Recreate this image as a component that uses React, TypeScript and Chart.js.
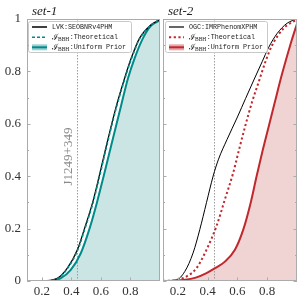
import React, { useEffect, useRef } from "react";
import { Chart, registerables } from "chart.js";
Chart.register(...registerables);

// ---------- shared axis data ----------
const xTickValues = [0.2, 0.4, 0.6, 0.8];
const yTickValues = [0, 0.2, 0.4, 0.6, 0.8, 1];
const yMinorTickValues = [0.1, 0.3, 0.5, 0.7, 0.9];
const xRange = [0.1, 1.0];
const markerX = 0.44;
const markerLabel = "J1249+349";

// ---------- set-1 ----------
const s1LvkX = [0.1, 0.2, 0.305, 0.373, 0.441, 0.487, 0.544, 0.589, 0.632, 0.7, 0.76, 0.805, 0.862, 0.94, 1.0];
const s1LvkY = [0, 0, 0.01, 0.049, 0.119, 0.196, 0.299, 0.401, 0.504, 0.658, 0.773, 0.85, 0.927, 0.978, 0.998];
const s1TheoX = [0.1, 0.203, 0.308, 0.376, 0.444, 0.49, 0.547, 0.592, 0.635, 0.703, 0.763, 0.808, 0.865, 0.943, 1.0];
const s1TheoY = [0, 0, 0.01, 0.049, 0.119, 0.196, 0.299, 0.401, 0.504, 0.658, 0.773, 0.85, 0.927, 0.978, 0.998];
const s1UniX = [0.1, 0.23, 0.327, 0.396, 0.464, 0.521, 0.573, 0.619, 0.664, 0.737, 0.783, 0.828, 0.885, 0.94, 1.0];
const s1UniY = [0, 0, 0.01, 0.042, 0.106, 0.196, 0.299, 0.401, 0.504, 0.67, 0.773, 0.85, 0.927, 0.975, 0.995];
const histEdges = [0.1, 0.145, 0.19, 0.235, 0.28, 0.325, 0.37, 0.415, 0.46, 0.505, 0.55, 0.595, 0.64, 0.685, 0.73, 0.775, 0.82, 0.865, 0.91, 0.955, 1.0];
const s1HistY = [0, 0, 0, 0.001, 0.004, 0.01, 0.028, 0.057, 0.102, 0.17, 0.252, 0.346, 0.449, 0.551, 0.654, 0.755, 0.837, 0.902, 0.952, 0.98, 0.995];

// ---------- set-2 ----------
const s2OgcX = [0.1, 0.19, 0.246, 0.302, 0.347, 0.392, 0.437, 0.473, 0.53, 0.6, 0.655, 0.71, 0.766, 0.81, 0.867, 0.934, 1.0];
const s2OgcY = [0, 0.004, 0.036, 0.107, 0.196, 0.299, 0.401, 0.465, 0.54, 0.626, 0.697, 0.767, 0.837, 0.892, 0.945, 0.984, 1.0];
const s2TheoX = [0.1, 0.19, 0.257, 0.325, 0.392, 0.459, 0.516, 0.572, 0.612, 0.653, 0.698, 0.743, 0.788, 0.833, 0.911, 0.99];
const s2TheoY = [0, 0.004, 0.017, 0.049, 0.119, 0.209, 0.312, 0.414, 0.504, 0.593, 0.683, 0.76, 0.837, 0.9, 0.965, 0.995];
const s2UniX = [0.1, 0.13, 0.235, 0.325, 0.392, 0.449, 0.516, 0.583, 0.639, 0.689, 0.729, 0.77, 0.81, 0.85, 0.89, 0.93, 0.965, 1.0];
const s2UniY = [0, 0, 0.004, 0.014, 0.03, 0.049, 0.074, 0.119, 0.196, 0.299, 0.401, 0.5, 0.59, 0.68, 0.77, 0.852, 0.92, 0.982];
const s2HistY = [0, 0.001, 0.002, 0.004, 0.009, 0.014, 0.024, 0.04, 0.053, 0.07, 0.095, 0.133, 0.197, 0.29, 0.403, 0.512, 0.612, 0.714, 0.81, 0.9, 0.982];

const TEAL = "#008b8b";
const RED = "#c0282d";

type LegendRow = { kind: "solid" | "dash" | "patch"; color: string; dash?: number[]; width: number; plain?: string; math?: string };

type PanelProps = {
  left: number;
  width: number;
  title: string;
  showYLabels: boolean;
  padRight: number;
  datasets: any[];
  legend: LegendRow[];
  legendBox: [number, number, number, number];
  showMarkerLabel: boolean;
  rightTicks: boolean;
  patchColor: string;
};

const xy = (xs: number[], ys: number[]) => xs.map((x, i) => ({ x, y: ys[i] }));

function Panel(p: PanelProps) {
  const ref = useRef<HTMLCanvasElement | null>(null);
  useEffect(() => {
    const canvas = ref.current!;
    const serif = '"Liberation Serif", "Times New Roman", serif';
    const deco = {
      id: "deco",
      beforeDatasetsDraw(chart: any) {
        const { ctx, chartArea: a, scales } = chart;
        const px = scales.x.getPixelForValue(markerX);
        ctx.save();
        ctx.strokeStyle = "#9a9a9a";
        ctx.lineWidth = 1;
        ctx.setLineDash([1.5, 1.5]);
        ctx.beginPath();
        ctx.moveTo(Math.round(px) + 0.5, a.top);
        ctx.lineTo(Math.round(px) + 0.5, a.bottom);
        ctx.stroke();
        ctx.setLineDash([]);
        if (p.showMarkerLabel) {
          ctx.translate(px - 9, scales.y.getPixelForValue(0.475));
          ctx.rotate(-Math.PI / 2);
          ctx.font = `13px ${serif}`;
          ctx.fillStyle = "#8a8a8a";
          ctx.textAlign = "center";
          ctx.textBaseline = "middle";
          ctx.fillText(markerLabel, 0, 0);
        }
        ctx.restore();
      },
      afterDatasetsDraw(chart: any) {
        const { ctx } = chart;
        const [bx, by, bw, bh] = p.legendBox;
        ctx.save();
        ctx.beginPath();
        (ctx as any).roundRect(bx + 0.5, by + 0.5, bw, bh, 2);
        ctx.fillStyle = "rgba(255,255,255,0.8)";
        ctx.fill();
        ctx.strokeStyle = "#c8c8c8";
        ctx.lineWidth = 1;
        ctx.stroke();
        const rowsY = [by + 6, by + 16.3, by + 26.3];
        const mono = '6.7px "Liberation Mono", "DejaVu Sans Mono", monospace';
        p.legend.forEach((r, i) => {
          const y = rowsY[i];
          const hx0 = bx + 4, hx1 = bx + 19;
          if (r.kind === "patch") {
            ctx.fillStyle = p.patchColor;
            ctx.fillRect(hx0, y - 3, hx1 - hx0, 6);
          }
          ctx.strokeStyle = r.color;
          ctx.lineWidth = r.width;
          ctx.setLineDash(r.dash || []);
          ctx.beginPath();
          ctx.moveTo(hx0, y);
          ctx.lineTo(hx1, y);
          ctx.stroke();
          ctx.setLineDash([]);
          let tx = bx + 24;
          ctx.fillStyle = "#222";
          ctx.textBaseline = "middle";
          ctx.textAlign = "left";
          if (r.math) {
            ctx.font = '8.5px "DejaVu Serif", serif';
            ctx.fillText("ℐ", tx, y);
            tx += ctx.measureText("ℐ").width;
            ctx.font = `5.5px ${serif}`;
            ctx.fillText("BBH", tx, y + 2);
            tx += ctx.measureText("BBH").width + 0.5;
            ctx.font = mono;
            ctx.fillText(r.math, tx, y);
          } else if (r.plain) {
            ctx.font = mono;
            ctx.fillText(r.plain, tx, y);
          }
        });
        ctx.restore();
      },
      afterDraw(chart: any) {
        const { ctx, chartArea: a, scales } = chart;
        ctx.save();
        ctx.strokeStyle = "#ababab";
        ctx.lineWidth = 1;
        ctx.strokeRect(a.left + 0.5, a.top + 0.5, a.right - a.left - 1, a.bottom - a.top - 1);
        ctx.beginPath();
        const tick = (v: number, len: number) => {
          const y = Math.round(scales.y.getPixelForValue(v)) + 0.5;
          ctx.moveTo(a.left, y);
          ctx.lineTo(a.left + len, y);
          if (p.rightTicks) {
            ctx.moveTo(a.right, y);
            ctx.lineTo(a.right - len, y);
          }
        };
        yTickValues.forEach((v) => tick(v, 3.5));
        yMinorTickValues.forEach((v) => tick(v, 2));
        xTickValues.forEach((v) => {
          const x = Math.round(scales.x.getPixelForValue(v)) + 0.5;
          ctx.moveTo(x, a.bottom);
          ctx.lineTo(x, a.bottom - 3.5);
        });
        ctx.stroke();
        ctx.font = `italic 13px ${serif}`;
        ctx.fillStyle = "#222";
        ctx.textBaseline = "alphabetic";
        ctx.textAlign = "left";
        ctx.fillText(p.title, a.left + 5, 15);
        ctx.restore();
      },
    };

    const chart = new Chart(canvas, {
      type: "line",
      data: { datasets: p.datasets },
      options: {
        animation: false,
        responsive: false,
        devicePixelRatio: 1,
        layout: { padding: { top: 19, right: p.padRight, left: 0, bottom: 0 } },
        plugins: { legend: { display: false }, tooltip: { enabled: false }, filler: { drawTime: "beforeDatasetsDraw" } },
        elements: { point: { radius: 0 } },
        scales: {
          x: {
            type: "linear",
            min: xRange[0],
            max: xRange[1],
            afterBuildTicks: (s: any) => {
              s.ticks = xTickValues.map((v) => ({ value: v }));
            },
            afterFit: (s: any) => {
              s.height = 26;
            },
            grid: { display: false, drawTicks: false },
            border: { display: false },
            ticks: {
              font: { family: "Liberation Serif", size: 13 },
              color: "#333",
              padding: 3,
              maxRotation: 0,
              autoSkip: false,
              callback: (v: any) => String(v),
            },
          },
          y: {
            type: "linear",
            min: 0,
            max: 1,
            afterBuildTicks: (s: any) => {
              s.ticks = yTickValues.map((v) => ({ value: v }));
            },
            afterFit: (s: any) => {
              s.width = p.showYLabels ? 27 : 3;
            },
            grid: { display: false, drawTicks: false },
            border: { display: false },
            ticks: {
              display: p.showYLabels,
              font: { family: "Liberation Serif", size: 13 },
              color: "#333",
              padding: 6,
              autoSkip: false,
              callback: (v: any) => String(v),
            },
          },
        },
      } as any,
      plugins: [deco as any],
    });
    return () => chart.destroy();
  }, []);
  return (
    <div style={{ position: "absolute", left: p.left, top: 0, width: p.width, height: 307 }}>
      <canvas ref={ref} width={p.width} height={307} style={{ display: "block" }} />
    </div>
  );
}

const base = { pointRadius: 0, cubicInterpolationMode: "monotone" };

export default function App() {
  const set1 = [
    { ...base, data: xy(s1TheoX, s1TheoY), borderColor: TEAL, borderWidth: 1.5, borderDash: [3, 2], fill: false },
    { ...base, data: xy(s1LvkX, s1LvkY), borderColor: "#000", borderWidth: 1.3, fill: false },
    { ...base, data: xy(s1UniX, s1UniY), borderColor: TEAL, borderWidth: 2, fill: "origin", backgroundColor: "#cbe5e5" },
    { pointRadius: 0, data: xy(histEdges, s1HistY), stepped: "before", borderWidth: 0, borderColor: "rgba(0,0,0,0)", fill: "origin", backgroundColor: "#e1f0f0" },
  ];
  const set2 = [
    { ...base, data: xy(s2TheoX, s2TheoY), borderColor: RED, borderWidth: 2, borderDash: [2.2, 2.5], fill: false },
    { ...base, data: xy(s2OgcX, s2OgcY), borderColor: "#000", borderWidth: 1, fill: false },
    { ...base, data: xy(s2UniX, s2UniY), borderColor: RED, borderWidth: 2, fill: "origin", backgroundColor: "#f0d3d3" },
    { pointRadius: 0, data: xy(histEdges, s2HistY), stepped: "before", borderWidth: 0, borderColor: "rgba(0,0,0,0)", fill: "origin", backgroundColor: "#f7e5e5" },
  ];
  const legend1: LegendRow[] = [
    { kind: "solid", color: "#000", width: 1.5, plain: "LVK:SEOBNRv4PHM" },
    { kind: "dash", color: TEAL, width: 1.5, dash: [3, 2], math: ":Theoretical" },
    { kind: "patch", color: TEAL, width: 2, math: ":Uniform Prior" },
  ];
  const legend2: LegendRow[] = [
    { kind: "solid", color: "#000", width: 1.2, plain: "OGC:IMRPhenomXPHM" },
    { kind: "dash", color: RED, width: 2, dash: [2.2, 2.5], math: ":Theoretical" },
    { kind: "patch", color: RED, width: 2, math: ":Uniform Prior" },
  ];
  return (
    <div style={{ position: "fixed", left: 0, top: 0, width: 304, height: 307, background: "#fff", overflow: "hidden" }}>
      <Panel left={0} width={162} title="set-1" showYLabels={true} padRight={2} datasets={set1} legend={legend1} legendBox={[28, 21, 103, 31]} showMarkerLabel={true} rightTicks={false} patchColor="#9fcfcf" />
      <Panel left={160} width={144} title="set-2" showYLabels={false} padRight={7} datasets={set2} legend={legend2} legendBox={[5, 21, 102, 31]} showMarkerLabel={false} rightTicks={true} patchColor="#e6a9ab" />
    </div>
  );
}
